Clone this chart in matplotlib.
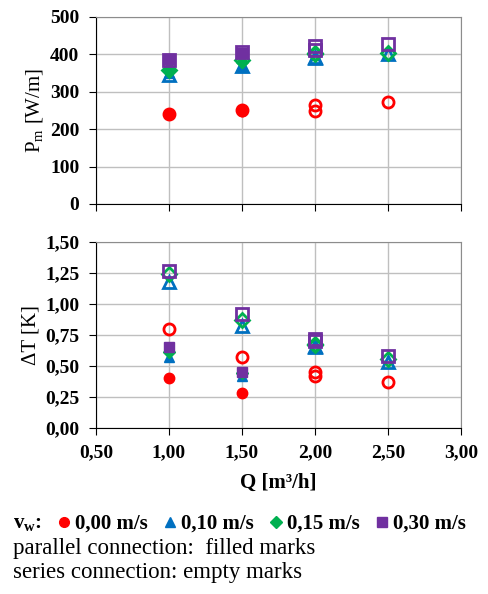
import matplotlib
matplotlib.use("Agg")
import matplotlib.pyplot as plt
from matplotlib.lines import Line2D

plt.rcParams['font.family'] = ['Liberation Serif', 'DejaVu Serif']
plt.rcParams['mathtext.fontset'] = 'custom'
plt.rcParams['mathtext.rm'] = 'Liberation Serif'

# flow rates
q_par = [1.0, 1.5]
q_ser = [1.0, 1.5, 2.0, 2.0, 2.5]

speeds = ['0,00 m/s', '0,10 m/s', '0,15 m/s', '0,30 m/s']
colors = ['#FF0000', '#0070C0', '#00B050', '#7030A0']
markers = ['o', '^', 'D', 's']

# P_m [W/m]
p_par = [[240, 248], [350, 365], [360, 380], [388, 405]]
p_ser = [[240, 252, 265, 249, 272],
         [345, 370, 392, 390, 400],
         [358, 385, 405, 400, 405],
         [385, 406, 422, 412, 428]]

# dT [K]
dt_par = [[0.40, 0.28], [0.575, 0.42], [0.61, 0.44], [0.65, 0.45]]
dt_ser = [[0.80, 0.57, 0.45, 0.42, 0.37],
          [1.18, 0.82, 0.66, 0.65, 0.53],
          [1.24, 0.87, 0.68, 0.67, 0.56],
          [1.27, 0.92, 0.72, 0.70, 0.58]]

x_ticks = [0.5, 1.0, 1.5, 2.0, 2.5, 3.0]
p_ticks = [0, 100, 200, 300, 400, 500]
dt_ticks = [0.0, 0.25, 0.5, 0.75, 1.0, 1.25, 1.5]

fig = plt.figure(figsize=(4.89, 5.94), dpi=100)
ax1 = fig.add_axes([0.1963, 0.6566, 0.7464, 0.3148])
ax2 = fig.add_axes([0.1963, 0.2795, 0.7464, 0.3131])

def comma(v, dec):
    return f"{v:.{dec}f}".replace('.', ',')

def draw(ax, par, ser):
    for i in range(4):
        ms = 7.5 if markers[i] != 'D' else 6.5
        ax.plot(q_par, par[i], linestyle='none', marker=markers[i], ms=ms,
                color=colors[i], mec=colors[i], zorder=3)
        ax.plot(q_ser, ser[i], linestyle='none', marker=markers[i], ms=ms + 0.5,
                mfc='none', mec=colors[i], mew=2, zorder=3)
    ax.set_xlim(0.5, 3.0)
    ax.set_xticks(x_ticks)
    ax.grid(True, color='#BFBFBF', lw=1)
    ax.set_axisbelow(True)
    for s in ['top', 'right']:
        ax.spines[s].set_color('#8C8C8C')
    for s in ['left', 'bottom']:
        ax.spines[s].set_color('#000000')
    ax.tick_params(direction='out', length=5, labelsize=14, pad=7,
                   top=False, right=False)

draw(ax1, p_par, p_ser)
ax1.set_ylim(0, 500)
ax1.set_yticks(p_ticks)
ax1.set_yticklabels([str(t) for t in p_ticks], fontweight='bold')
ax1.set_xticklabels([])
ax1.set_ylabel('P$_\\mathregular{m}$ [W/m]', fontsize=15, labelpad=3)

draw(ax2, dt_par, dt_ser)
ax2.set_ylim(0, 1.5)
ax2.set_yticks(dt_ticks)
ax2.set_yticklabels([comma(t, 2) for t in dt_ticks], fontweight='bold')
ax2.set_xticklabels([comma(t, 2) for t in x_ticks], fontweight='bold')
ax2.set_xlabel('Q [m³/h]', fontsize=15, fontweight='bold', labelpad=8)
ax2.set_ylabel('ΔT [K]', fontsize=15, labelpad=3)

handles = [Line2D([], [], linestyle='none', marker=markers[i], color=colors[i],
                  ms=7 if markers[i] != 'D' else 6) for i in range(4)]
fig.text(0.026, 0.118, 'v$_\\mathregular{w}$:', fontsize=15, va='center', fontweight='bold')
fig.legend(handles, speeds, loc='center left', bbox_to_anchor=(0.08, 0.118),
           ncol=4, frameon=False, handlelength=0.6, handletextpad=0.2,
           columnspacing=0.8, prop={'size': 15, 'weight': 'bold'})
fig.text(0.026, 0.076, 'parallel connection:  filled marks', fontsize=16.5, va='center')
fig.text(0.026, 0.036, 'series connection: empty marks', fontsize=16.5, va='center')

fig.savefig('out.png', dpi=100)
